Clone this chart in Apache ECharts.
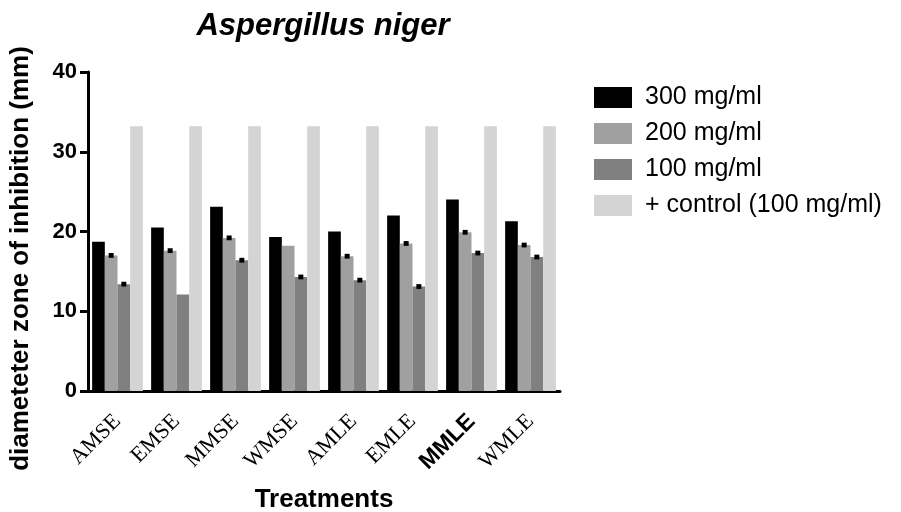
<!DOCTYPE html>
<html>
<head>
<meta charset="utf-8">
<script src="https://cdn.jsdelivr.net/npm/echarts@6/dist/echarts.min.js"></script>
<style>
  html, body { margin: 0; padding: 0; background: #fff; }
  #chart { width: 901px; height: 512px; }
</style>
</head>
<body>
<div id="chart"></div>
<script>
// treatments on the x axis
var treatments = ['AMSE', 'EMSE', 'MMSE', 'WMSE', 'AMLE', 'EMLE', 'MMLE', 'WMLE']

// zone of inhibition (mm)
var dose300 = [18.7, 20.5, 23.1, 19.3, 20.0, 22.0, 24.0, 21.3]
var dose200 = [17.0, 17.6, 19.2, 18.2, 16.9, 18.5, 19.9, 18.3]
var dose100 = [13.4, 12.1, 16.4, 14.3, 13.9, 13.1, 17.3, 16.8]
var control = [33.2, 33.2, 33.2, 33.2, 33.2, 33.2, 33.2, 33.2]

// error bar half-widths (0 = none visible)
var err200 = [0.3, 0.3, 0.3, 0, 0.3, 0.3, 0.3, 0.3]
var err100 = [0.3, 0, 0.3, 0.3, 0.3, 0.3, 0.3, 0.3]

var seriesNames = ['300 mg/ml', '200 mg/ml', '100 mg/ml', '+ control (100 mg/ml)']
var yTicks = [0, 10, 20, 30, 40]

var colors = ['#000000', '#a0a0a0', '#808080', '#d4d4d4']
var CAT_GAP = 0.14

function errorSeries(values, errs, slot) {
    var data = values.map(function (v, i) { return [i, v, errs[i]] })
    return {
        type: 'custom',
        silent: true,
        z: 5,
        data: data,
        renderItem: function (params, api) {
            var e = api.value(2)
            if (!e) return
            var idx = api.value(0)
            var v = api.value(1)
            var band = api.size([1, 0])[0]
            var bw = band * (1 - CAT_GAP) / 4
            var center = api.coord([idx, v])
            var x = center[0] - band * (1 - CAT_GAP) / 2 + (slot + 0.5) * bw
            var top = api.coord([idx, v + e])[1]
            var bottom = api.coord([idx, v - e])[1]
            return {
                type: 'rect',
                shape: { x: x - 2.5, y: top, width: 5, height: bottom - top },
                style: { fill: '#000' }
            }
        }
    }
}

var chart = echarts.init(document.getElementById('chart'))

chart.setOption({
    animation: false,
    backgroundColor: '#fff',
    color: colors,
    title: {
        text: 'Aspergillus niger',
        left: 318,
        textAlign: 'center',
        top: 6,
        textStyle: {
            fontFamily: 'Liberation Sans',
            fontStyle: 'italic',
            fontWeight: 'bold',
            fontSize: 31,
            color: '#000'
        }
    },
    legend: {
        data: seriesNames,
        orient: 'vertical',
        left: 589,
        top: 80,
        icon: 'rect',
        itemWidth: 38,
        itemHeight: 21,
        itemGap: 11,
        selectedMode: false,
        textStyle: {
            fontFamily: 'Liberation Sans',
            fontSize: 25,
            color: '#000',
            padding: [0, 0, 0, 8]
        }
    },
    grid: {
        left: 88,
        right: 341,
        top: 72,
        bottom: 121,
        outerBoundsMode: 'none'
    },
    xAxis: {
        type: 'category',
        data: treatments,
        name: 'Treatments',
        nameLocation: 'middle',
        nameGap: 96,
        nameTextStyle: {
            fontFamily: 'Liberation Sans',
            fontWeight: 'bold',
            fontSize: 26,
            color: '#000'
        },
        axisLine: { lineStyle: { color: '#000', width: 3 } },
        axisTick: { alignWithLabel: true, length: 7, lineStyle: { color: '#000', width: 3 } },
        axisLabel: {
            rotate: 45,
            interval: 0,
            margin: 27,
            fontFamily: 'Liberation Serif',
            fontSize: 22,
            color: '#000',
            formatter: function (v) {
                return v === 'MMLE' ? '{b|' + v + '}' : v
            },
            rich: {
                b: {
                    fontFamily: 'Liberation Sans',
                    fontWeight: 'bold',
                    fontSize: 23,
                    color: '#000'
                }
            }
        }
    },
    yAxis: {
        type: 'value',
        min: yTicks[0],
        max: yTicks[yTicks.length - 1],
        interval: 10,
        name: 'diameteter zone of inhibition (mm)',
        nameLocation: 'middle',
        nameGap: 54,
        nameTextStyle: {
            fontFamily: 'Liberation Sans',
            fontWeight: 'bold',
            fontSize: 26,
            color: '#000',
            padding: [0, 54, 0, 0]
        },
        axisLine: { show: true, lineStyle: { color: '#000', width: 3 } },
        axisTick: { show: true, length: 8, lineStyle: { color: '#000', width: 3 } },
        splitLine: { show: false },
        axisLabel: {
            margin: 11,
            fontFamily: 'Liberation Sans',
            fontWeight: 'bold',
            fontSize: 22,
            color: '#000'
        }
    },
    series: [
        { name: seriesNames[0], type: 'bar', data: dose300, barGap: 0, barCategoryGap: '14%' },
        { name: seriesNames[1], type: 'bar', data: dose200, barGap: 0, barCategoryGap: '14%' },
        { name: seriesNames[2], type: 'bar', data: dose100, barGap: 0, barCategoryGap: '14%' },
        { name: seriesNames[3], type: 'bar', data: control, barGap: 0, barCategoryGap: '14%' },
        errorSeries(dose200, err200, 1),
        errorSeries(dose100, err100, 2)
    ]
})
</script>
</body>
</html>
